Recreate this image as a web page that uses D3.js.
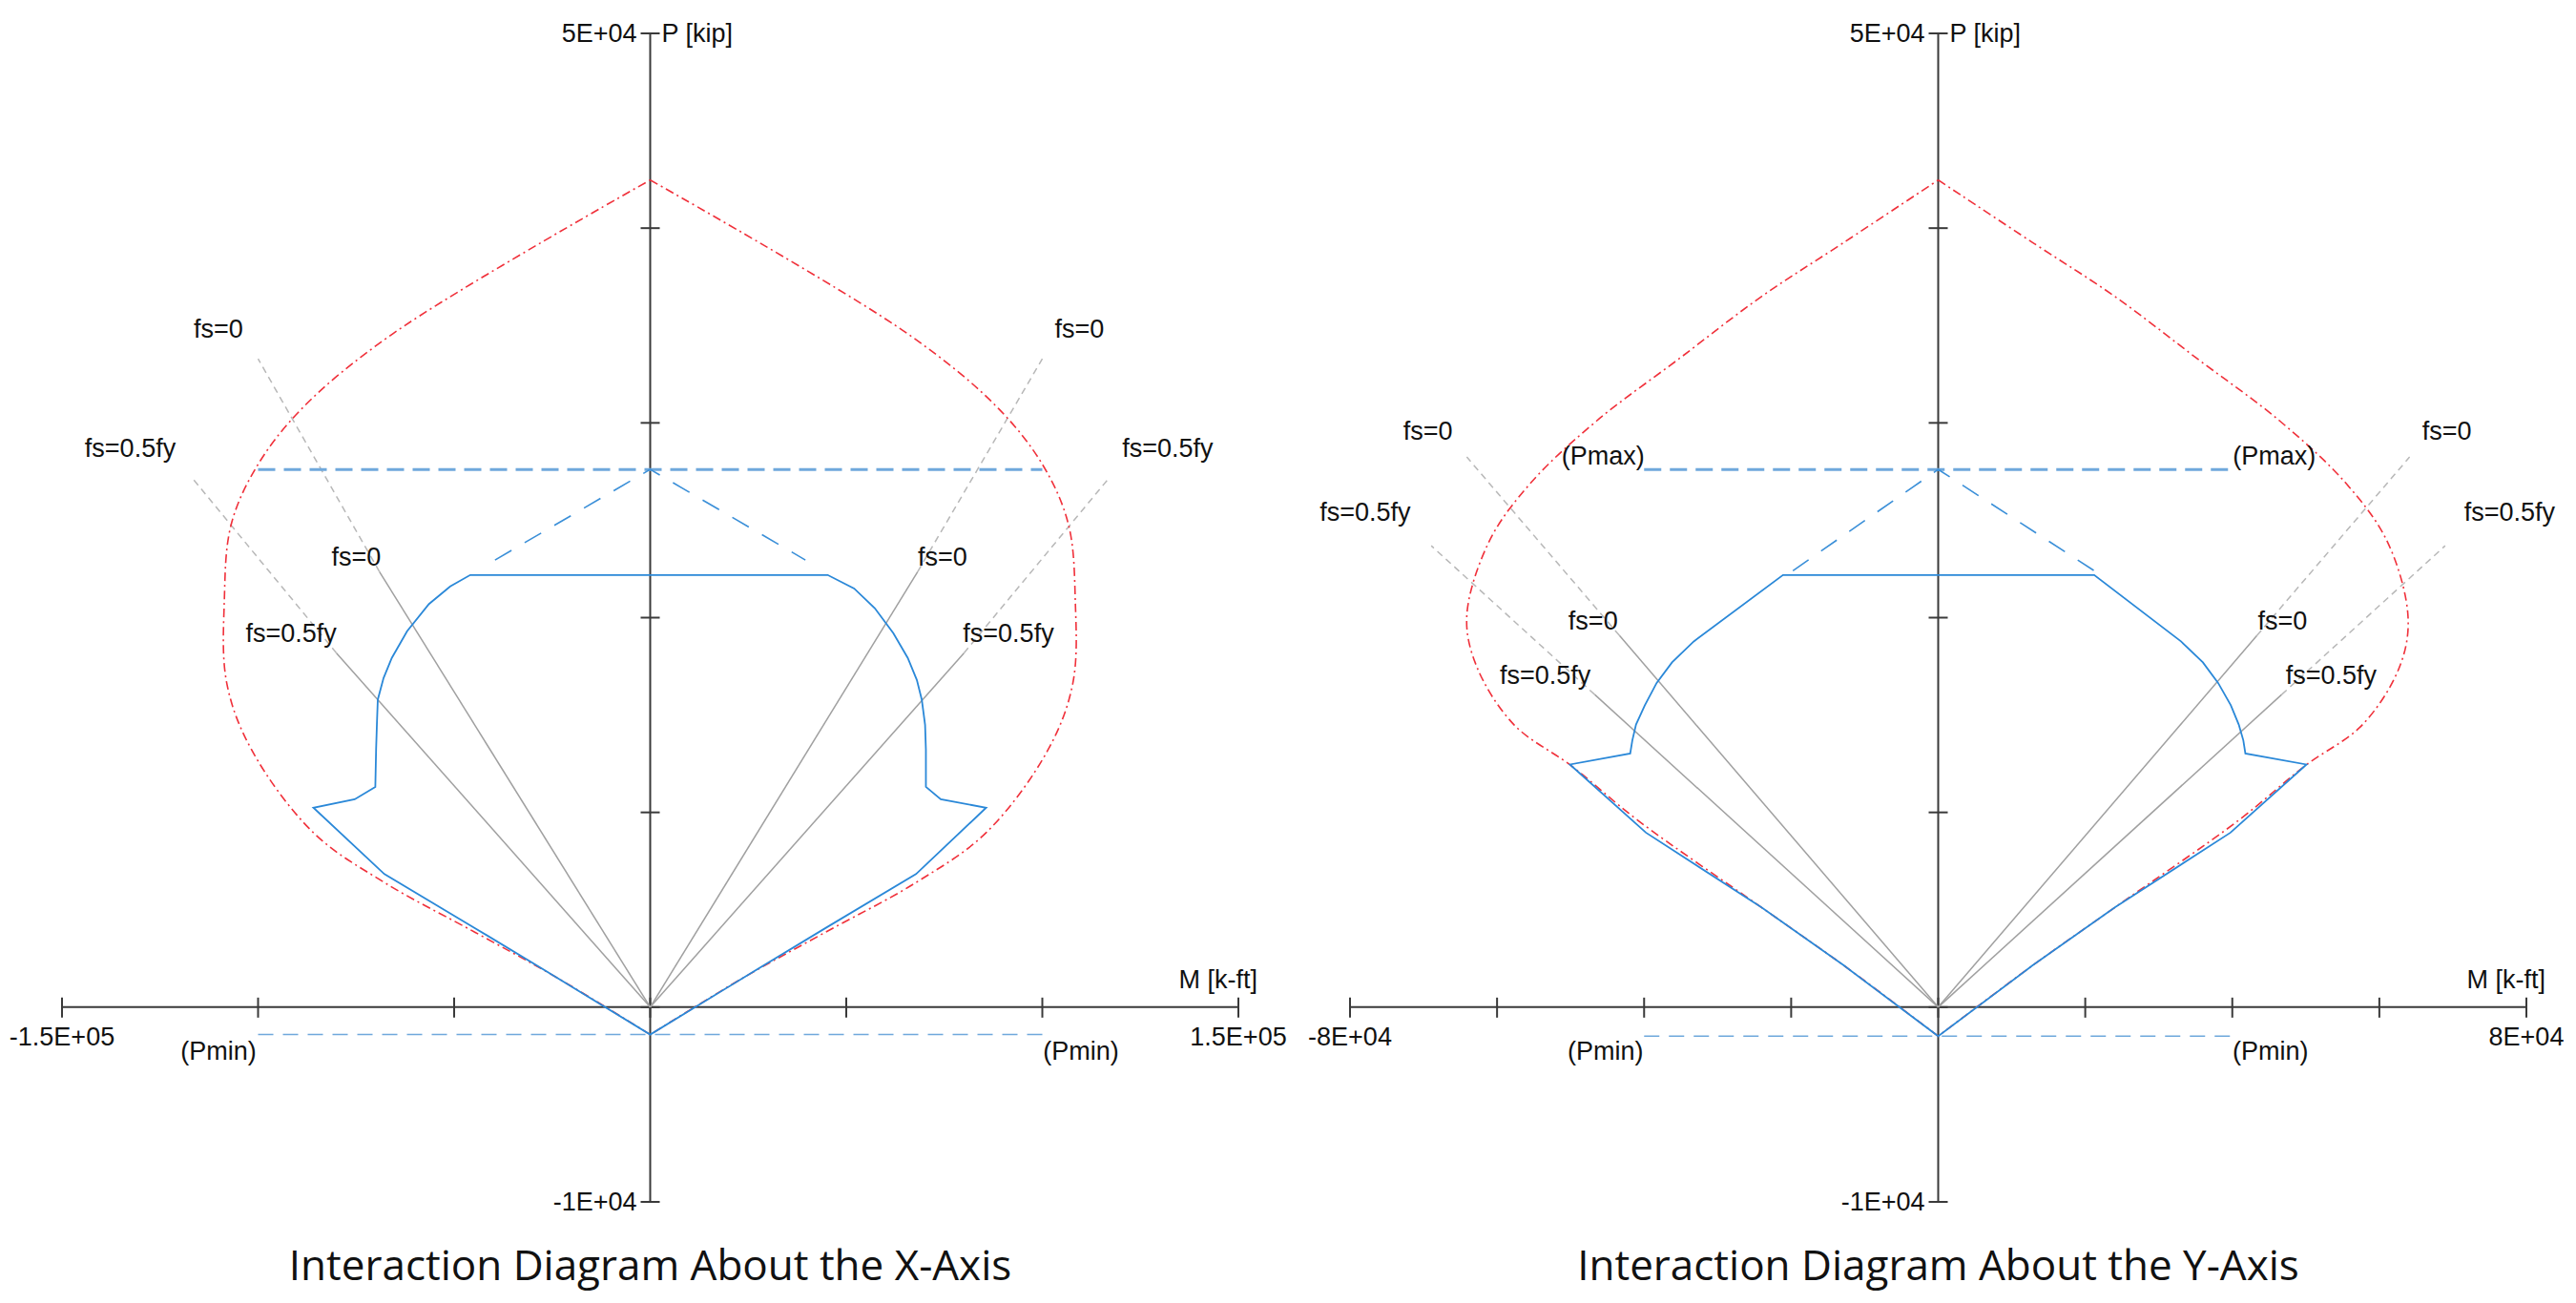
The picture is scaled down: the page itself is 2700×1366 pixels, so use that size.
<!DOCTYPE html>
<html>
<head>
<meta charset="utf-8">
<script src="https://cdn.jsdelivr.net/npm/d3@7"></script>
<style>
  body { margin: 0; background: #fff; }
  text { font-family: "Liberation Sans", Arial, sans-serif; fill: #111; }
  .title { font-family: "Open Sans", "Noto Sans", sans-serif; }
</style>
</head>
<body>
<svg id="chart" width="2700" height="1366"></svg>
<script>
// ---- X-axis diagram, [M k-ft, P kip]
const xNominal = [
  [0, 42470], [65700, 34570], [88840, 30730], [100400, 27740], [106700, 24750],
  [108400, 20910], [107800, 16650], [101500, 13230], [85680, 8960], [67800, 6400],
  [44630, 3840], [23580, 1490], [0, -1410],
  [-23580, 1490], [-44630, 3840], [-67800, 6400], [-85900, 8960], [-101700, 13230],
  [-108000, 16650], [-108600, 20910], [-106900, 24750], [-100400, 27740],
  [-88840, 30730], [-65700, 34570], [0, 42470]
];
const xDesign = [
  [0, 22190], [45260, 22190], [52000, 21500], [57260, 20490], [62000, 19200], [65680, 17930],
  [68000, 16800], [69260, 15790], [70100, 14500], [70310, 13230], [70310, 11310],
  [74100, 10670], [85680, 10240], [67790, 6830],
  [44630, 4050], [23580, 1490], [0, -1410],
  [-23580, 1490], [-44630, 4050], [-67790, 6830], [-85890, 10240], [-75360, 10670],
  [-70100, 11310], [-69900, 13230], [-69700, 14500], [-69470, 15790], [-68000, 16900],
  [-65890, 17930], [-62000, 19300], [-56420, 20700], [-51000, 21600],
  [-45890, 22190], [0, 22190]
];
const xPmax = 27610, xPmin = -1410, xPlineExt = 100000;
const xPmaxDiag = [[-39580, 22960], [0, 27610], [39580, 22960]];
// gray rays: [solid end, dashed end]
const xRays = [
  [[-69050, 22360], [-100000, 33290]],
  [[-80000, 18180], [-117050, 27230]],
  [[68210, 22360], [100000, 33290]],
  [[80000, 18180], [117260, 27230]]
];
const xRayLabels = [
  ["fs=0", -110100, 34830], ["fs=0.5fy", -132600, 28720],
  ["fs=0", -74940, 23130], ["fs=0.5fy", -91570, 19210],
  ["fs=0", 109460, 34830], ["fs=0.5fy", 131980, 28720],
  ["fs=0", 74520, 23130], ["fs=0.5fy", 91360, 19210]
];
const xPLabels = [["(Pmin)", -110100, -2220], ["(Pmin)", 109880, -2220]];

// ---- Y-axis diagram
const yNominal = [
  [0, 42470], [12800, 39270], [24030, 36490], [35260, 33290], [46490, 30090],
  [55480, 26890], [61090, 23900], [63900, 20060], [62780, 17500], [57720, 14510],
  [49860, 12380], [40880, 9600], [24030, 5120], [12800, 2130], [0, -1490],
  [-12800, 2130], [-24030, 5120], [-40880, 9600], [-49860, 12380], [-57720, 14510],
  [-62780, 17500], [-64120, 20060], [-61090, 23900], [-55480, 26890], [-46490, 30090],
  [-35260, 33290], [-24030, 36490], [-12800, 39270], [0, 42470]
];
const yDesign = [
  [0, 22190], [21220, 22190], [33020, 18780], [36000, 17700], [38070, 16650],
  [39800, 15500], [40880, 14510], [41500, 13700], [41780, 13020], [50090, 12460],
  [39750, 8960], [24030, 5120], [12800, 2130], [0, -1490],
  [-12800, 2130], [-24030, 5120], [-39750, 8960], [-50090, 12460], [-41890, 13020],
  [-41600, 13700], [-41100, 14510], [-39900, 15500], [-38290, 16650], [-36200, 17700],
  [-33240, 18780], [-21110, 22190], [0, 22190]
];
const yPmax = 27610, yPmin = -1490, yPlineExt = 40000;
const yPmaxDiag = [[-19760, 22410], [0, 27610], [21220, 22410]];
const yRays = [
  [[-43350, 19080], [-64120, 28250]],
  [[-46720, 16050], [-68950, 23690]],
  [[43350, 19080], [64120, 28250]],
  [[46720, 16050], [68950, 23690]]
];
const yRayLabels = [
  ["fs=0", -69400, 29620], ["fs=0.5fy", -77940, 25440],
  ["fs=0", -46940, 19850], ["fs=0.5fy", -53450, 17070],
  ["fs=0", 69180, 29620], ["fs=0.5fy", 77710, 25440],
  ["fs=0", 46830, 19850], ["fs=0.5fy", 53450, 17070]
];
const yPLabels = [
  ["(Pmax)", -45590, 28300], ["(Pmax)", 45700, 28300],
  ["(Pmin)", -45260, -2260], ["(Pmin)", 45190, -2260]
];

const svg = d3.select("#chart");

function drawPanel(p) {
  const x = d3.scaleLinear().domain([-p.mMax, p.mMax]).range([p.left, p.left + 1233]);
  const y = d3.scaleLinear().domain([-10000, 50000]).range([1260, 35]);
  const g = svg.append("g");
  const line = d3.line().x(d => x(d[0])).y(d => y(d[1]));
  const smooth = d3.line().x(d => x(d[0])).y(d => y(d[1])).curve(d3.curveCatmullRom.alpha(0.5));
  const x0 = x(0), y0 = y(0);

  // axes
  const axisColor = "#3a3a3a";
  const mTicks = d3.range(-p.mMax, p.mMax + 1, p.mStep);
  g.append("line").attr("x1", x(-p.mMax)).attr("x2", x(p.mMax)).attr("y1", y0).attr("y2", y0)
    .attr("stroke", axisColor).attr("stroke-width", 2);
  g.selectAll(".mt").data(mTicks).enter().append("line")
    .attr("x1", d => x(d)).attr("x2", d => x(d)).attr("y1", y0 - 10).attr("y2", y0 + 11)
    .attr("stroke", axisColor).attr("stroke-width", 2);
  g.append("line").attr("x1", x0).attr("x2", x0).attr("y1", y(50000)).attr("y2", y(-10000))
    .attr("stroke", axisColor).attr("stroke-width", 2);
  g.selectAll(".pt").data(d3.range(-10000, 50001, 10000)).enter().append("line")
    .attr("x1", x0 - 10).attr("x2", x0 + 10).attr("y1", d => y(d)).attr("y2", d => y(d))
    .attr("stroke", axisColor).attr("stroke-width", 2);

  const fs = 27;
  g.append("text").attr("x", x0 - 14).attr("y", y(50000)).attr("dy", "0.35em")
    .attr("text-anchor", "end").attr("font-size", fs).text("5E+04");
  g.append("text").attr("x", x0 + 12).attr("y", y(50000)).attr("dy", "0.35em")
    .attr("font-size", fs).text("P [kip]");
  g.append("text").attr("x", x0 - 14).attr("y", y(-10000)).attr("dy", "0.35em")
    .attr("text-anchor", "end").attr("font-size", fs).text("-1E+04");
  g.append("text").attr("x", x(p.mMax) + 20).attr("y", y0 - 20)
    .attr("text-anchor", "end").attr("font-size", fs).text("M [k-ft]");
  g.append("text").attr("x", x(-p.mMax)).attr("y", y0 + 40)
    .attr("text-anchor", "middle").attr("font-size", fs).text(p.minLabel);
  g.append("text").attr("x", x(p.mMax)).attr("y", y0 + 40)
    .attr("text-anchor", "middle").attr("font-size", fs).text(p.maxLabel);

  // gray rays
  p.rays.forEach(r => {
    g.append("path").attr("d", line([[0, 0], r[0]])).attr("fill", "none")
      .attr("stroke", "#a0a0a0").attr("stroke-width", 1.5);
    g.append("path").attr("d", line([r[0], r[1]])).attr("fill", "none")
      .attr("stroke", "#b8b8b8").attr("stroke-width", 1.5).attr("stroke-dasharray", "7,5");
  });

  // Pmax / Pmin lines
  g.append("path").attr("d", line([[-p.pExt, p.pmax], [p.pExt, p.pmax]])).attr("fill", "none")
    .attr("stroke", "#6fa8dc").attr("stroke-width", 3).attr("stroke-dasharray", "18,9");
  g.append("path").attr("d", line(p.diag)).attr("fill", "none")
    .attr("stroke", "#3a8fd8").attr("stroke-width", 1.6).attr("stroke-dasharray", "20,16");
  g.append("path").attr("d", line([[-p.pExt, p.pmin], [p.pExt, p.pmin]])).attr("fill", "none")
    .attr("stroke", "#6fa8dc").attr("stroke-width", 1.5).attr("stroke-dasharray", "16,10");

  // nominal curve: smooth each half so the top and bottom corners stay sharp
  const iMin = d3.minIndex(p.nominal, d => d[1]);
  [p.nominal.slice(0, iMin + 1), p.nominal.slice(iMin)].forEach(half => {
    g.append("path").attr("d", smooth(half)).attr("fill", "none")
      .attr("stroke", "#f0303a").attr("stroke-width", 1.6).attr("stroke-dasharray", "9,4,2,4");
  });
  g.append("path").attr("d", line(p.design)).attr("fill", "none")
    .attr("stroke", "#2a88d8").attr("stroke-width", 1.8);

  // labels
  g.selectAll(".lab").data(p.rayLabels.concat(p.pLabels)).enter().append("text")
    .attr("x", d => x(d[1])).attr("y", d => y(d[2])).attr("dy", "0.35em")
    .attr("text-anchor", "middle").attr("font-size", fs).text(d => d[0]);

  g.append("text").attr("class", "title").attr("x", x0).attr("y", 1342)
    .attr("text-anchor", "middle").attr("font-size", 44).text(p.title);
}

drawPanel({
  left: 65, mMax: 150000, mStep: 50000, minLabel: "-1.5E+05", maxLabel: "1.5E+05",
  nominal: xNominal, design: xDesign, pmax: xPmax, pmin: xPmin, pExt: xPlineExt,
  diag: xPmaxDiag, rays: xRays, rayLabels: xRayLabels, pLabels: xPLabels,
  title: "Interaction Diagram About the X-Axis"
});
drawPanel({
  left: 1415, mMax: 80000, mStep: 20000, minLabel: "-8E+04", maxLabel: "8E+04",
  nominal: yNominal, design: yDesign, pmax: yPmax, pmin: yPmin, pExt: yPlineExt,
  diag: yPmaxDiag, rays: yRays, rayLabels: yRayLabels, pLabels: yPLabels,
  title: "Interaction Diagram About the Y-Axis"
});
</script>
</body>
</html>
